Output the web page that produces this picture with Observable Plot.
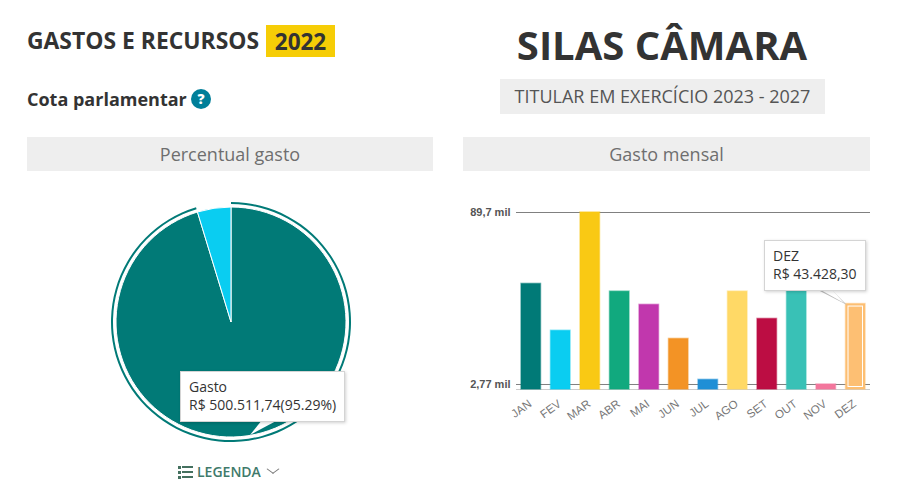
<!DOCTYPE html>
<html lang="pt-BR">
<head>
<meta charset="utf-8">
<script src="https://cdn.jsdelivr.net/npm/d3@7"></script>
<script src="https://cdn.jsdelivr.net/npm/@observablehq/plot@0.6"></script>
<style>
html,body{margin:0;padding:0;background:#fff;width:914px;height:500px;overflow:hidden;font-family:"Open Sans",sans-serif;color:#333}
.a{position:absolute;white-space:nowrap}
.band{background:#eee;color:#6e6e6e;font-size:18px;text-align:center;height:34px;line-height:34px;top:137px}
.tip{background:#fff;border:1px solid #d4d4d4;box-shadow:1px 1px 3px rgba(0,0,0,.18);font-size:14px;line-height:18px;color:#333;box-sizing:border-box;padding:6px 8px}
.plot{position:absolute}
svg{display:block}
</style>
</head>
<body>
<div class="a" style="left:27px;top:25px;line-height:32px;font-size:22.9px;font-weight:700">GASTOS E RECURSOS</div>
<div class="a" style="left:266px;top:25px;width:69px;height:32px;background:#f6cd06;text-align:center;line-height:33px;font-size:22.5px;font-weight:700">2022</div>
<div class="a" style="left:27px;top:87px;line-height:24px;font-size:18px;font-weight:700">Cota parlamentar</div>
<div class="a" style="left:191px;top:89px;width:20px;height:20px;border-radius:50%;background:#007f99;color:#fff;text-align:center;line-height:20px;font-size:14px;font-weight:800">?</div>
<div class="a" style="left:462px;width:400px;text-align:center;top:17px;line-height:56px;font-size:40px;font-weight:700;color:#333">SILAS CÂMARA</div>
<div class="a" style="left:500px;top:79px;width:325px;height:35px;background:#eee;text-align:center;line-height:35px;font-size:18px;color:#555">TITULAR EM EXERCÍCIO 2023 - 2027</div>
<div class="a band" style="left:27px;width:406px">Percentual gasto</div>
<div class="a band" style="left:463px;width:407px">Gasto mensal</div>

<div id="pie" class="plot" style="left:91px;top:182px"></div>
<div id="bars" class="plot" style="left:463px;top:190px"></div>

<div class="a" style="left:250px;top:420px;width:28px;height:15px;background:#fff;clip-path:polygon(43% 0,100% 0,0 100%)"></div>
<div class="a tip" style="left:180px;top:371px;width:165px;height:51px">Gasto<br>R$ 500.511,74(95.29%)</div>

<div class="a" style="left:816px;top:289px;width:31px;height:16px;background:#bbb;clip-path:polygon(0 0,48% 0,100% 100%)"></div>
<div class="a" style="left:819px;top:289px;width:25px;height:14px;background:#fff;clip-path:polygon(0 0,50% 0,100% 100%)"></div>
<div class="a tip" style="left:764px;top:240px;width:102px;height:51px">DEZ<br>R$ 43.428,30</div>

<div class="a" style="left:178px;top:466px;width:3px;height:13px;background:repeating-linear-gradient(#44705f 0 3px,transparent 3px 5px)"></div>
<div class="a" style="left:182px;top:466px;width:11px;height:13px;background:repeating-linear-gradient(#44705f 0 2px,transparent 2px 5px)"></div>
<div class="a" style="left:197px;top:462px;line-height:20px;font-size:14px;font-weight:600;color:#3f7a6b">LEGENDA</div>
<div class="a" style="left:269px;top:465px;width:7px;height:7px;border-right:1px solid #777;border-bottom:1px solid #777;transform:rotate(45deg) skew(-8deg,-8deg)"></div>

<script>
const meses = ["JAN","FEV","MAR","ABR","MAI","JUN","JUL","AGO","SET","OUT","NOV","DEZ"];
const gastos = [53.6,29.9,89.7,49.7,43.0,25.8,5.1,49.7,35.9,71.3,2.77,43.43];
const cores = ["#017a77","#0acdf1","#f9c914","#11a97e","#c137ad","#f39325","#1f8fd6","#ffd966","#bc0d43","#39c1b6","#f3779d","#fdbf73"];
const yTicks = [2.77,89.7];
const yTickLabels = ["2,77 mil","89,7 mil"];
const yMin = 0.24;

const pieNomes = ["Gasto","Disponível"];
const pieValores = [95.29,4.71];
const pieCores = ["#017a77","#0acdf1"];

const barras = meses.map((mes,i)=>({mes,valor:gastos[i],cor:cores[i]}));

document.getElementById("bars").append(Plot.plot({
  width:407,height:240,marginLeft:53,marginRight:0,marginTop:22,marginBottom:41,
  style:{background:"transparent",overflow:"visible"},
  x:{domain:meses,paddingInner:0.34,paddingOuter:0.17,round:false,align:0.5,label:null},
  y:{domain:[yMin,89.7],label:null},
  marks:[
    Plot.ruleY(yTicks,{stroke:"#808080",strokeWidth:1,strokeOpacity:1}),
    Plot.ruleY([yMin],{stroke:"#ccc",strokeWidth:1}),
    Plot.barY(barras,{x:"mes",y1:yMin,y2:"valor",fill:"cor"}),
    Plot.barY(barras,{x:"mes",y1:yMin,y2:"valor",fill:"none",stroke:"cor",strokeWidth:1.5,strokeOpacity:0.55,inset:0}),
    Plot.barY(barras.filter(d=>d.mes==="DEZ"),{x:"mes",y1:yMin,y2:"valor",fill:"none",stroke:"#fff",strokeWidth:1,inset:2.5}),
    Plot.axisY({ticks:yTicks,tickFormat:d=>yTickLabels[yTicks.indexOf(d)],tickSize:0,tickPadding:6,fontSize:11,fontWeight:700,fill:"#555",fontFamily:"Liberation Sans",label:null}),
    Plot.axisX({tickSize:0,tickRotate:-36,tickPadding:4,dy:9,dx:-1,textAnchor:"end",fontSize:11.5,fill:"#777",fontFamily:"Liberation Sans",label:null})
  ]
}));

const R = 115, RAnel = 119;
const fatias = d3.pie().sort(null).startAngle(0).endAngle(2*Math.PI)(pieValores);
function pieMark(index,{x,y}){
  const cx=x(0), cy=y(0);
  const g=d3.create("svg:g").attr("transform",`translate(${cx},${cy})`);
  const arco=d3.arc().innerRadius(0).outerRadius(R);
  g.selectAll("path.f").data(fatias).join("path").attr("class","f")
    .attr("d",arco).attr("fill",(d,i)=>pieCores[i]).attr("stroke","#fff").attr("stroke-width",1);
  g.append("path")
    .attr("d",d3.arc().innerRadius(RAnel-1).outerRadius(RAnel+1)(fatias[0]))
    .attr("fill",pieCores[0]);
  return g.node();
}
document.getElementById("pie").append(Plot.plot({
  width:280,height:280,margin:0,
  style:{background:"transparent",overflow:"visible"},
  x:{domain:[-140,140],axis:null},
  y:{domain:[-140,140],axis:null},
  marks:[pieMark]
}));
</script>
</body>
</html>
